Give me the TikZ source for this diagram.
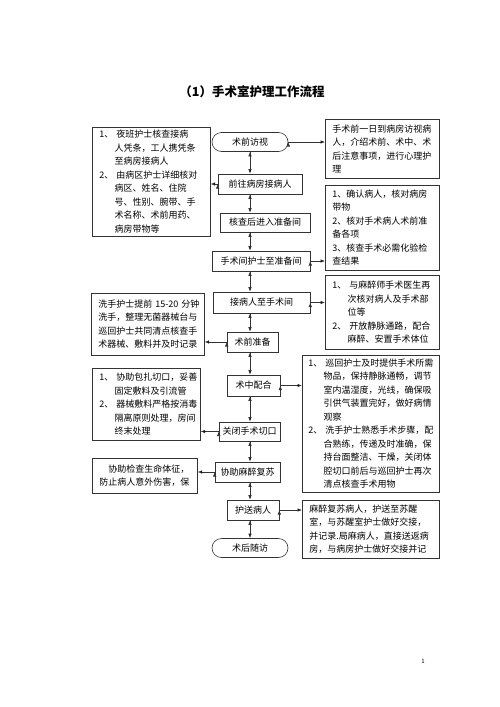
\documentclass[tikz,border=0pt]{standalone}
\usepackage{fontspec}
\setmainfont{Noto Sans CJK SC}
\usetikzlibrary{arrows.meta,positioning,calc}

\newcommand{\hangin}{\hspace*{1.7em}}

\tikzset{
  base/.style={draw=black!80, line width=0.6pt, font=\fontsize{9}{13.5}\selectfont},
  term/.style={base, rounded corners=9.5pt, minimum width=76pt, minimum height=19pt, inner sep=1pt},
  mainbox/.style={base, minimum height=20pt, inner sep=2pt},
  sidebox/.style={base, anchor=north west, align=left, inner xsep=7pt, inner ysep=3pt},
  link/.style={draw=black!80, line width=0.6pt, -{Latex[length=4.5pt,width=3.5pt]}}
}

\begin{document}
\begin{tikzpicture}[x=1pt,y=-1pt]
\path[use as bounding box, fill=white] (0,0) rectangle (500,707);

\node[font=\fontsize{12.5}{15}\selectfont\bfseries] (title) at (252,92) {（1）手术室护理工作流程};

% main column
\coordinate (sp) at (250,0);
\node[term] (t1) at (250,142) {术前访视};
\node[mainbox, minimum width=84pt] (n1) at (260,184) {前往病房接病人};
\node[mainbox, minimum width=90pt, minimum height=19pt] (n2) at (265,222.5) {核查后进入准备间};
\node[mainbox, minimum width=98pt] (n3) at (261,261) {手术间护士至准备间};
\node[mainbox, minimum width=97pt, minimum height=21pt] (n4) at (261.5,302.5) {接病人至手术间};
\node[mainbox, minimum width=51pt] (n5) at (252.5,342) {术前准备};
\node[mainbox, minimum width=53pt, minimum height=21pt] (n6) at (253.5,385.5) {术中配合};
\node[mainbox, minimum width=61pt, minimum height=19pt] (n7) at (249.5,431.5) {关闭手术切口};
\node[mainbox, minimum width=65pt] (n8) at (247.5,472) {协助麻醉复苏};
\node[mainbox, minimum width=52pt] (n9) at (253,510) {护送病人};
\node[term] (t2) at (250,548) {术后随访};

% left side
\node[sidebox, text width=104pt, minimum height=109pt] (lb1) at (92,127)
  {1、~夜班护士核查接病\\ \hangin 人凭条，工人携凭条\\ \hangin 至病房接病人\\
   2、~由病区护士详细核对\\ \hangin 病区、姓名、住院\\ \hangin 号、性别、腕带、手\\
   \hangin 术名称、术前用药、\\ \hangin 病房带物等};
\node[sidebox, text width=99pt, minimum height=62pt] (lb2) at (91,293)
  {\mbox{洗手护士提前~15-20~分钟}\\ 洗手，整理无菌器械台与\\ 巡回护士共同清点核查手\\ 术器械、敷料并及时记录};
\node[sidebox, text width=94pt, minimum height=72pt] (lb3) at (92,368)
  {1、~协助包扎切口，妥善\\ \hangin 固定敷料及引流管\\ 2、~器械敷料严格按消毒\\
   \hangin 隔离原则处理，房间\\ \hangin 终末处理};
\node[sidebox, text width=91pt, minimum height=35pt] (lb4) at (92,458)
  {\hspace*{1em}协助检查生命体征，\\ 防止病人意外伤害，保};

% right side
\node[sidebox, text width=100pt, minimum height=59pt] (rb1) at (325,119)
  {手术前一日到病房访视病\\ 人，介绍术前、术中、术\\ 后注意事项，进行心理护\\ 理};
\node[sidebox, text width=100pt, minimum height=85pt] (rb2) at (325,185)
  {1、确认病人，核对病房\\ 带物\\ 2、核对手术病人术前准\\ 备各项\\ 3、核查手术必需化验检\\ 查结果};
\node[sidebox, text width=100pt, minimum height=74pt] (rb3) at (325,275)
  {1、~与麻醉师手术医生再\\ \hangin 次核对病人及手术部\\ \hangin 位等\\
   2、~开放静脉通路，配合\\ \hangin 麻醉、安置手术体位};
\node[sidebox, inner xsep=6pt, text width=125pt, minimum height=137pt] (rb4) at (302,355)
  {1、~巡回护士及时提供手术所需\\ \hangin 物品，保持静脉通畅，调节\\ \hangin 室内温湿度，光线，确保吸\\
   \hangin 引供气装置完好，做好病情\\ \hangin 观察\\
   2、~洗手护士熟悉手术步骤，配\\ \hangin 合熟练，传递及时准确，保\\ \hangin 持台面整洁、干燥，关闭体\\
   \hangin 腔切口前后与巡回护士再次\\ \hangin 清点核查手术用物};
\node[sidebox, text width=123pt, minimum height=58pt] (rb5) at (302,500)
  {麻醉复苏病人，护送至苏醒\\ 室，与苏醒室护士做好交接，\\ 并记录.局麻病人，直接送返病\\ 房，与病房护士做好交接并记};

% down the middle
\path [link] (t1.south -| sp) edge (n1.north -| sp);
\path [link] (n1.south -| sp) edge (n2.north -| sp);
\path [link] (n2.south -| sp) edge (n3.north -| sp);
\path [link] (n3.south -| sp) edge (n4.north -| sp);
\path [link] (n4.south -| sp) edge (n5.north -| sp);
\path [link] (n5.south -| sp) edge (n6.north -| sp);
\path [link] (n6.south -| sp) edge (n7.north -| sp);
\path [link] (n7.south -| sp) edge (n8.north -| sp);
\path [link] (n8.south -| sp) edge (n9.north -| sp);
\path [link] (n9.south -| sp) edge (t2.north -| sp);

% out to the sides
\path [link] (t1.east) edge (t1.east -| rb1.west);
\path [link] (n1.west) edge (n1.west -| lb1.east);
\path [link] (n3.east) edge (n3.east -| rb2.west);
\path [link] (n4.east) edge (n4.east -| rb3.west);
\path [link] (n5.west) edge (n5.west -| lb2.east);
\path [link] (n6.east) edge (n6.east -| rb4.west);
\path [link] (n7.west) edge (n7.west -| lb3.east);
\path [link] (n8.west) edge (n8.west -| lb4.east);
\path [link] (n9.east) edge (n9.east -| rb5.west);

\node[font=\fontsize{6}{7}\selectfont] (pg) at (423,661) {1};
\end{tikzpicture}
\end{document}
